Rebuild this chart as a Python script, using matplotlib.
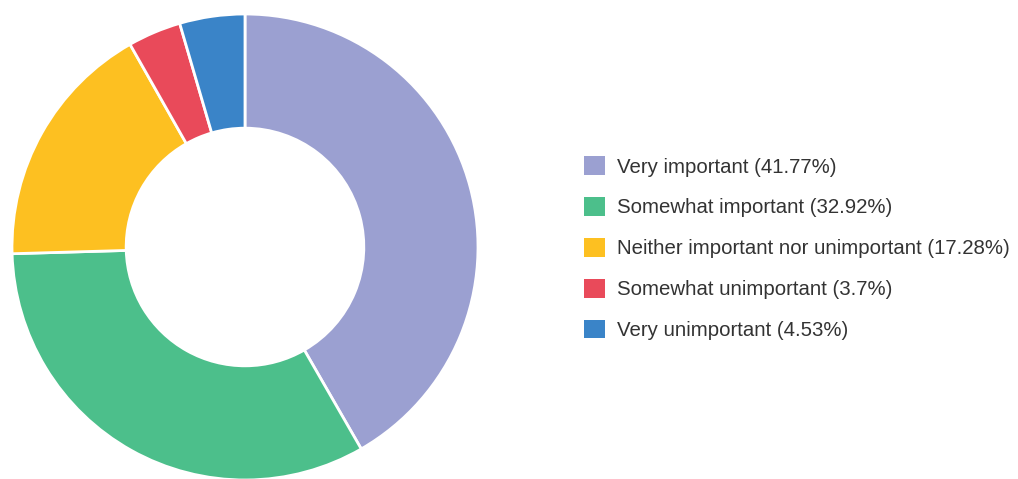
import matplotlib.pyplot as plt
from matplotlib.patches import Patch

labels = ["Very important", "Somewhat important", "Neither important nor unimportant",
          "Somewhat unimportant", "Very unimportant"]
shares = [41.77, 32.92, 17.28, 3.7, 4.53]
colors = ["#9ba0d1", "#4cbf8b", "#fdc021", "#e94a5a", "#3a84c8"]

plt.rcParams['font.family'] = ['Liberation Sans', 'DejaVu Sans']

fig = plt.figure(figsize=(10.18, 4.79), dpi=100)
# donut centred at about (245, 247) px, outer radius ~233 px
ax = fig.add_axes([12 / 1018, (479 - 247 - 233) / 479, 466 / 1018, 466 / 479])
ax.pie(shares, colors=colors, startangle=90, counterclock=False, radius=1,
       wedgeprops=dict(width=0.49, edgecolor="white", linewidth=2))
ax.set_xlim(-1, 1)
ax.set_ylim(-1, 1)
ax.set_aspect("equal")
ax.axis("off")

handles = [Patch(facecolor=c, edgecolor="none") for c in colors]
leg_labels = [f"{l} ({s:g}%)" for l, s in zip(labels, shares)]
fig.legend(handles, leg_labels, loc="upper left", bbox_to_anchor=(566 / 1018, 1 - 138 / 479),
           frameon=False, fontsize=14.7, handlelength=1.0, handleheight=1.0,
           handletextpad=0.6, labelspacing=1.02, labelcolor="#333333")

fig.savefig("out.png", dpi=100)
